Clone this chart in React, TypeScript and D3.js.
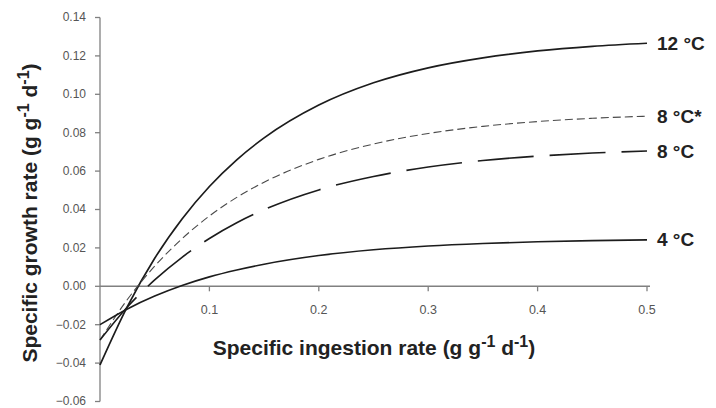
import React from "react";
import * as d3 from "d3";

// Specific ingestion rate (g g-1 d-1)
const ingestion = [0, 0.025, 0.05, 0.075, 0.1, 0.125, 0.15, 0.2, 0.25, 0.3, 0.35, 0.4, 0.45, 0.5];

// Specific growth rate (g g-1 d-1) for each temperature
const growth12 = [-0.041, -0.0106, 0.0146, 0.0351, 0.052, 0.0659, 0.0773, 0.0944, 0.106, 0.1138, 0.119, 0.1226, 0.125, 0.1266];
const growth8star = [-0.028, -0.0069, 0.0105, 0.0248, 0.0366, 0.0463, 0.0542, 0.0661, 0.0741, 0.0796, 0.0833, 0.0858, 0.0875, 0.0886];
const growth8 = [-0.028, -0.0108, 0.0033, 0.0151, 0.0249, 0.0331, 0.0399, 0.0502, 0.0572, 0.0621, 0.0655, 0.0678, 0.0694, 0.0705];
const growth4 = [-0.02, -0.0118, -0.0051, 0.0004, 0.0049, 0.0085, 0.0115, 0.016, 0.019, 0.021, 0.0223, 0.0232, 0.0238, 0.0242];

const seriesLabels = ["12 °C", "8 °C*", "8 °C", "4 °C"];

const xTicks = [0.1, 0.2, 0.3, 0.4, 0.5];
const yTicks = [-0.06, -0.04, -0.02, 0, 0.02, 0.04, 0.06, 0.08, 0.1, 0.12, 0.14];

const W = 716;
const H = 408;
const FONT = "Arial, 'Liberation Sans', Helvetica, sans-serif";

export default function App() {
  const x = d3.scaleLinear().domain([0, 0.5]).range([100, 647]);
  const y = d3.scaleLinear().domain([-0.06, 0.14]).range([401.5, 17.5]);

  const line = d3
    .line<number>()
    .x((_, i) => x(ingestion[i]))
    .y((d) => y(d))
    .curve(d3.curveMonotoneX);

  const series = [
    { values: growth12, dash: undefined, width: 1.7, color: "#1c1c1c" },
    { values: growth8star, dash: "8,4", width: 1.1, color: "#4a4a4a" },
    { values: growth8, dash: "56,16", width: 1.6, color: "#1c1c1c" },
    { values: growth4, dash: undefined, width: 1.6, color: "#1c1c1c" },
  ];

  const axisColor = "#808080";
  const x0 = x(0);
  const yZero = y(0);

  return (
    <svg
      width={W}
      height={H}
      viewBox={`0 0 ${W} ${H}`}
      style={{ position: "absolute", left: 0, top: 0, background: "#fff" }}
    >
      {/* y axis */}
      <line x1={x0} x2={x0} y1={y(0.14)} y2={y(-0.06)} stroke={axisColor} strokeWidth={1.3} />
      {yTicks.map((t) => (
        <g key={`y${t}`}>
          <line x1={x0 - 5} x2={x0} y1={y(t)} y2={y(t)} stroke={axisColor} strokeWidth={1.3} />
          <text
            x={86}
            y={y(t)}
            dy="0.33em"
            textAnchor="end"
            fontFamily={FONT}
            fontSize={12}
            fill="#555"
          >
            {d3.format(".2f")(t)}
          </text>
        </g>
      ))}

      {/* x axis along zero growth */}
      <line x1={x0} x2={x(0.5) + 3} y1={yZero} y2={yZero} stroke={axisColor} strokeWidth={1.6} />
      {xTicks.map((t) => (
        <g key={`x${t}`}>
          <line x1={x(t)} x2={x(t)} y1={yZero} y2={yZero + 5} stroke={axisColor} strokeWidth={1.3} />
          <text
            x={x(t)}
            y={yZero + 28}
            textAnchor="middle"
            fontFamily={FONT}
            fontSize={12.5}
            fill="#555"
          >
            {d3.format(".1f")(t)}
          </text>
        </g>
      ))}

      {/* growth curves */}
      {series.map((s, i) => (
        <path
          key={`s${i}`}
          d={line(s.values) || ""}
          fill="none"
          stroke={s.color}
          strokeWidth={s.width}
          strokeDasharray={s.dash}
        />
      ))}

      {/* curve labels */}
      {series.map((s, i) => (
        <text
          key={`l${i}`}
          x={x(0.5) + 10}
          y={y(s.values[s.values.length - 1])}
          dy="0.35em"
          fontFamily={FONT}
          fontSize={19}
          fontWeight="bold"
          fill="#222"
        >
          {seriesLabels[i]}
        </text>
      ))}

      {/* x title */}
      <text
        x={374}
        y={355}
        textAnchor="middle"
        fontFamily={FONT}
        fontSize={21}
        fontWeight="bold"
        fill="#222"
      >
        Specific ingestion rate (g g
        <tspan fontSize={16} dy={-8}>-1</tspan>
        <tspan dy={8}> d</tspan>
        <tspan fontSize={16} dy={-8}>-1</tspan>
        <tspan dy={8}>)</tspan>
      </text>

      {/* y title */}
      <text
        transform={`translate(37,213) rotate(-90)`}
        textAnchor="middle"
        fontFamily={FONT}
        fontSize={21}
        fontWeight="bold"
        fill="#222"
      >
        Specific growth rate (g g
        <tspan fontSize={16} dy={-8}>-1</tspan>
        <tspan dy={8}> d</tspan>
        <tspan fontSize={16} dy={-8}>-1</tspan>
        <tspan dy={8}>)</tspan>
      </text>
    </svg>
  );
}
